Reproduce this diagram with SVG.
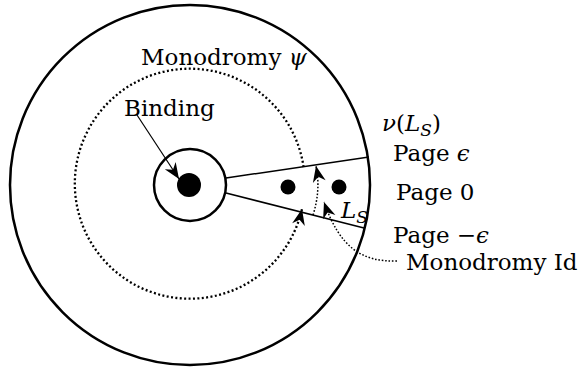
<svg xmlns="http://www.w3.org/2000/svg" width="579" height="369" viewBox="0 0 579 369">
<style>
.thick{fill:none;stroke:#000;stroke-width:2.5}
.line{fill:none;stroke:#000;stroke-width:1.5}
.dot{fill:none;stroke:#000;stroke-width:2.3;stroke-dasharray:2 2.4}
.dsm{fill:none;stroke:#000;stroke-width:1.5;stroke-dasharray:1.6 1.8}
text{font-family:'DejaVu Serif',serif;font-size:23px;fill:#000}
.i{font-style:italic}
</style>
<defs>
<marker id="ah" markerUnits="userSpaceOnUse" markerWidth="20" markerHeight="20" viewBox="-18 -9 20 18" refX="0" refY="0" orient="auto">
<path d="M0,0 L-16,-6.5 L-11,0 L-16,6.5 Z" fill="#000"/>
</marker>
</defs>
<g id="outer"><circle class="thick" cx="190" cy="185" r="180"/></g>
<g id="binding-disc"><circle class="thick" cx="190" cy="185" r="36"/><circle cx="189" cy="185" r="12" fill="#000"/></g>
<g id="points"><circle cx="288" cy="187" r="7.5" fill="#000"/><circle cx="339" cy="187" r="7.5" fill="#000"/></g>
<g id="pages">
<line class="line" x1="226" y1="178" x2="369" y2="157"/>
<line class="line" x1="226" y1="193" x2="364" y2="228"/>
</g>
<g id="connectors">
<path class="dot" d="M303.6,167 A115,115 0 1 0 302,209" marker-end="url(#ah)"/>
<path class="dsm" d="M313,215 Q321,190 316,166" marker-end="url(#ah)"/>
<path class="dsm" d="M397,261 C362,262 340,248 324,202" marker-end="url(#ah)"/>
<line x1="137" y1="115" x2="179" y2="179" stroke="#000" stroke-width="1.2" marker-end="url(#ah)"/>
</g>
<g id="labels">
<text x="141" y="65">Monodromy <tspan class="i">ψ</tspan></text>
<text x="124" y="116">Binding</text>
<text x="382" y="131"><tspan class="i">ν</tspan>(<tspan class="i">L</tspan><tspan class="i" font-size="17" dy="5">S</tspan><tspan dy="-5">)</tspan></text>
<text x="393" y="161">Page <tspan class="i">ϵ</tspan></text>
<text x="396" y="200">Page 0</text>
<text x="393" y="243">Page −<tspan class="i">ϵ</tspan></text>
<text x="406" y="270">Monodromy Id</text>
<text class="i" x="341" y="218">L<tspan font-size="17" dy="5">S</tspan></text>
</g>
</svg>
